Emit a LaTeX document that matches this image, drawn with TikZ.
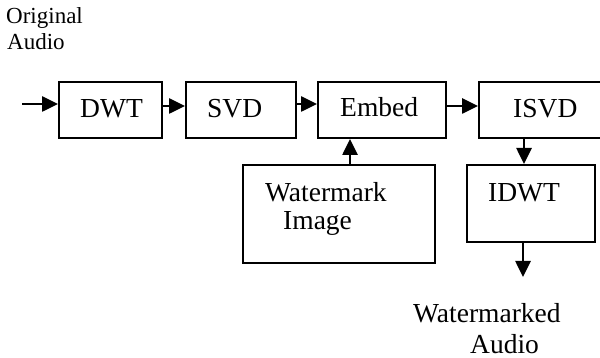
\documentclass[tikz,border=0pt]{standalone}
\usepackage{fontspec}
\setmainfont{Liberation Serif}
\usetikzlibrary{arrows.meta}

\begin{document}
\begin{tikzpicture}[x=1pt, y=-1pt,
  block/.style={draw, line width=2pt, rectangle, inner sep=0pt},
  lbl/.style={anchor=base west, inner sep=0pt, font=\fontsize{27.5}{30}\selectfont},
  note/.style={anchor=base west, inner sep=0pt, font=\fontsize{23}{26}\selectfont},
  flow/.style={line width=2.6pt, -{Triangle[length=16pt, width=15pt]}}
]
\useasboundingbox (0,0) rectangle (600,358);

% processing blocks (corner to corner)
\node[block, minimum width=103pt, minimum height=56pt] (dwt)   at (110.5,110) {};
\node[block, minimum width=110pt, minimum height=56pt] (svd)   at (241,110) {};
\node[block, minimum width=128pt, minimum height=56pt] (embed) at (382,110) {};
\node[block, minimum width=126pt, minimum height=56pt] (isvd)  at (542,110) {};
\node[block, minimum width=128pt, minimum height=77pt] (idwt)  at (531,203.5) {};
\node[block, minimum width=192pt, minimum height=98pt] (wm)    at (339,214) {};

% block labels
\node[lbl] (dwt-t)   at (80,118)  {DWT};
\node[lbl] (svd-t)   at (207,118) {SVD};
\node[lbl] (embed-t) at (340,117) {Embed};
\node[lbl] (isvd-t)  at (513,118) {ISVD};
\node[lbl] (idwt-t)  at (488,202) {IDWT};
\node[lbl] (wm-t1)   at (265,202) {Watermark};
\node[lbl] (wm-t2)   at (283,230) {Image};

% input and output texts
\node[note] (in-t1)  at (6,24) {Original};
\node[note] (in-t2)  at (7,50) {Audio};
\node[lbl]  (out-t1) at (413,323) {Watermarked};
\node[lbl]  (out-t2) at (470,353) {Audio};

% free ends of the input and output arrows
\coordinate (src) at (22,104);
\coordinate (dst) at (523,277);

% connectors
\draw[flow] (src) -- (src -| dwt.west);
\draw[flow] ([yshift=4pt]dwt.east) -- ([yshift=4pt]svd.west);
\draw[flow] ([yshift=6pt]svd.east) -- ([yshift=6pt]embed.west);
\draw[flow] ([yshift=4pt]embed.east) -- ([yshift=4pt]isvd.west);
\draw[flow] ([xshift=11pt]wm.north) -- ([xshift=-32pt]embed.south);
\draw[flow] ([xshift=-18pt]isvd.south) -- ([xshift=-7pt]idwt.north);
\draw[flow] (idwt.south -| dst) -- (dst);
\end{tikzpicture}
\end{document}
